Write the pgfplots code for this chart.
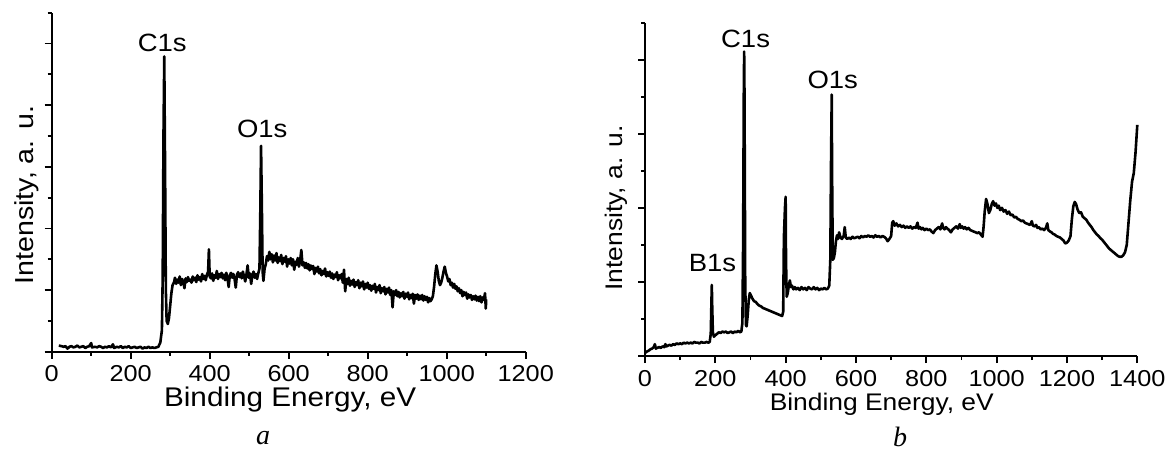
\documentclass[border=0pt]{standalone}
\usepackage{fontspec}
\setmainfont{Liberation Sans}[FakeStretch=1.1]
\newfontfamily\serifit{Liberation Serif}[ItalicFont={Liberation Serif Italic}]
\usepackage{pgfplots}
\pgfplotsset{compat=1.18}
\pgfplotsset{xps/.style={
  scale only axis, axis lines=left,
  axis line style={-, line width=0.9pt, black},
  every tick/.style={black, line width=0.9pt},
  tick align=outside, major tick length=3.5pt, minor tick length=2pt,
  yticklabels={},
  /pgf/number format/assume math mode=true,
  /pgf/number format/1000 sep={},
  scaled x ticks=false,
  tick label style={font=\fontsize{11.5}{13}\selectfont},
  clip=false,
}}
\begin{document}
\begin{tikzpicture}
\useasboundingbox (0,0) rectangle (584.5pt,226pt);
% ---------- panel a ----------
\begin{axis}[xps, at={(25.85pt,50.15pt)}, anchor=south west,
  width=237pt, height=169.5pt,
  xmin=0, xmax=1200, ymin=0, ymax=5.5,
  xtick={0,200,...,1200}, minor xtick={100,300,...,1100},
  ytick={0,1,...,5}, minor ytick={0.5,1.5,...,5.5},
  xlabel={Binding Energy, eV},
  ylabel={Intensity, a. u.},
  xlabel style={at={(axis description cs:0.503,-0.142)}, anchor=center, font=\fontsize{13.5}{15}\selectfont},
  ylabel style={at={(axis description cs:-0.052,0.462)}, anchor=center, font=\fontsize{13}{15}\selectfont},
]
\addplot[black, line width=1.3pt, line join=round] coordinates {
(18,0.10)(25,0.09)(30,0.08)(35,0.09)(40,0.05)(45,0.08)(50,0.09)(55,0.07)(60,0.08)(65,0.10)(70,0.07)(75,0.08)(80,0.09)(85,0.06)(90,0.08)(95,0.09)(100,0.14)(102,0.07)(110,0.08)(115,0.07)(120,0.09)(125,0.08)(130,0.06)(135,0.08)(140,0.07)(145,0.09)(150,0.07)(155,0.12)(158,0.06)(165,0.08)(170,0.07)(175,0.09)(180,0.06)(185,0.08)(190,0.07)(195,0.09)(200,0.06)(205,0.07)(210,0.08)(215,0.06)(220,0.07)(225,0.08)(230,0.05)(235,0.07)(240,0.06)(245,0.08)(250,0.06)(255,0.07)(260,0.06)(265,0.07)(270,0.08)(275,0.15)(279,0.35)(281,1.2)(283,3.5)(285,4.79)(287,3.0)(289,1.0)(291,0.5)(294,0.45)(297,0.55)(300,0.75)(303,0.95)(306,1.08)(310,1.13)
(312,1.20)(315,1.10)(318,1.17)(321,1.12)(324,1.22)(327,1.08)(330,1.18)(333,1.14)(336,1.03)(339,1.19)(342,1.13)(345,1.21)(348,1.15)(351,1.17)(354,1.12)(357,1.22)(360,1.16)(363,1.20)(366,1.13)(369,1.24)(372,1.17)(375,1.21)(378,1.14)(381,1.26)(384,1.18)(387,1.23)(390,1.16)(393,1.25)(396,1.30)(398,1.66)(400,1.22)(403,1.19)(406,1.27)(409,1.15)(412,1.24)(415,1.20)(418,1.31)(421,1.18)(424,1.26)(427,1.21)(430,1.28)(433,1.19)(436,1.25)(439,1.16)(442,1.28)(445,1.20)(448,1.05)(451,1.24)(454,1.28)(457,1.20)(460,1.26)(463,1.18)(466,1.04)(469,1.25)(472,1.29)(475,1.21)(478,1.27)(481,1.19)(484,1.30)(487,1.22)(490,1.14)(493,1.25)(496,1.40)(499,1.20)(502,1.27)(505,1.10)(508,1.24)(511,1.30)(514,1.20)(517,1.26)(520,1.18)(523,1.27)(526,1.35)(528,2.2)(530,3.34)(532,2.4)(534,1.3)(536,1.15)(539,1.35)(542,1.42)(545,1.55)(548,1.48)(551,1.62)(554,1.50)(557,1.58)(560,1.45)(563,1.56)(566,1.48)(569,1.60)(572,1.44)(575,1.53)(578,1.47)(581,1.57)(584,1.42)(587,1.52)(590,1.46)(593,1.55)(596,1.38)(599,1.50)(602,1.43)(605,1.52)(608,1.40)(611,1.50)(614,1.33)(617,1.46)(620,1.41)(623,1.52)(626,1.38)(629,1.48)(632,1.65)(635,1.40)(638,1.45)(641,1.36)(644,1.44)(647,1.35)(650,1.42)(653,1.32)(656,1.40)(659,1.34)(662,1.39)(665,1.26)(668,1.36)(671,1.30)(674,1.38)(677,1.27)(680,1.34)(683,1.24)(686,1.31)(689,1.26)(692,1.35)(695,1.22)(698,1.29)(701,1.23)(704,1.30)(707,1.20)(710,1.27)(713,1.18)(716,1.25)(719,1.21)(722,1.29)(725,1.16)(728,1.24)(731,1.19)(734,1.26)(737,1.12)(740,1.33)(743,0.98)(746,1.18)(749,1.10)(752,1.20)(755,1.07)(758,1.15)(761,1.09)(764,1.17)(767,1.05)(770,1.13)(773,1.08)(776,1.16)(779,1.03)(782,1.12)(785,1.06)(788,1.14)(791,1.01)(794,1.10)(797,1.04)(800,1.12)(803,1.02)(806,1.08)(809,0.99)(812,1.07)(815,1.02)(818,1.10)(821,0.96)(824,1.05)(827,1.00)(830,1.08)(833,0.95)(836,1.03)(839,0.98)(842,1.05)(845,0.93)(848,1.02)(851,0.96)(854,1.04)(857,0.92)(860,1.00)(863,0.72)(866,0.98)(869,0.92)(872,1.00)(875,0.90)(878,0.97)(881,0.88)(884,0.95)(887,0.90)(890,0.97)(893,0.86)(896,0.94)(899,0.89)(902,0.96)(905,0.85)(908,0.92)(911,0.87)(914,0.94)(917,0.78)(920,0.92)(923,0.86)(926,0.93)(929,0.84)(932,0.91)(935,0.85)(938,0.92)(941,0.83)(944,0.90)(947,0.84)(950,0.89)(953,0.80)(956,0.87)(959,0.82)(962,0.85)(965,0.90)(968,1.05)(971,1.25)(974,1.40)(977,1.30)(980,1.15)(983,1.08)(986,1.12)(989,1.20)(992,1.30)(995,1.38)(998,1.28)(1001,1.22)(1004,1.14)(1007,1.18)(1010,1.08)(1013,1.12)(1016,1.04)(1019,1.10)(1022,1.02)(1025,1.06)(1028,0.98)(1031,1.03)(1034,0.95)(1037,1.00)(1040,0.90)(1043,0.97)(1046,0.92)(1049,0.96)(1052,0.86)(1055,0.93)(1058,0.88)(1061,0.92)(1064,0.84)(1067,0.90)(1070,0.85)(1073,0.91)(1076,0.83)(1079,0.89)(1082,0.82)(1085,0.90)(1088,0.80)(1091,0.88)(1094,0.84)(1097,0.95)(1099,0.70)(1100,0.85)
};
\node[anchor=south, font=\fontsize{12.5}{14}\selectfont, inner sep=1pt] at (axis cs:280,4.83) {C1s};
\node[anchor=south, font=\fontsize{12.5}{14}\selectfont, inner sep=1pt] at (axis cs:533,3.43) {O1s};
\end{axis}
% ---------- panel b ----------
\begin{axis}[xps, at={(322.5pt,48pt)}, anchor=south west,
  width=246.15pt, height=166.65pt,
  xmin=0, xmax=1400, ymin=0, ymax=4.5,
  xtick={0,200,...,1400}, minor xtick={100,300,...,1300},
  ytick={0,1,...,4}, minor ytick={0.5,1.5,...,4.5},
  xlabel={Binding Energy, eV},
  ylabel={Intensity, a. u.},
  xlabel style={at={(axis description cs:0.481,-0.145)}, anchor=center, font=\fontsize{12}{14}\selectfont},
  ylabel style={at={(axis description cs:-0.059,0.444)}, anchor=center, font=\fontsize{12}{14}\selectfont},
]
\addplot[black, line width=1.3pt, line join=round] coordinates {
(0,0.04)(5,0.06)(10,0.07)(15,0.09)(20,0.10)(25,0.12)(28,0.16)(31,0.10)(35,0.11)(40,0.12)(45,0.11)(50,0.13)(55,0.12)(58,0.16)(61,0.13)(65,0.14)(70,0.15)(75,0.14)(80,0.16)(85,0.15)(90,0.17)(95,0.16)(100,0.17)(105,0.16)(110,0.18)(115,0.17)(120,0.18)(125,0.17)(130,0.18)(135,0.17)(140,0.19)(145,0.18)(150,0.18)(155,0.17)(160,0.19)(165,0.18)(170,0.18)(175,0.19)(180,0.18)(184,0.19)(187,0.30)(189,0.75)(190,0.96)(191,0.70)(193,0.32)(196,0.26)(200,0.28)(205,0.30)(210,0.32)(215,0.31)(220,0.33)(225,0.32)(230,0.33)(235,0.31)(240,0.32)(245,0.33)(250,0.31)(255,0.33)(260,0.32)(265,0.34)(270,0.32)(274,0.33)(277,0.45)(279,1.5)(281,3.6)(282,4.11)(283,3.5)(285,1.0)(287,0.42)(289,0.40)(292,0.55)(295,0.75)(298,0.85)(301,0.82)(305,0.78)(310,0.74)(315,0.73)(320,0.70)(325,0.68)(330,0.67)(335,0.65)(340,0.64)(345,0.63)(350,0.62)(355,0.61)(360,0.60)(365,0.59)(370,0.58)(375,0.57)(380,0.56)(385,0.55)(390,0.54)(393,0.60)(395,1.6)(398,2.0)(400,2.15)(401,1.3)(403,0.80)(406,0.85)(409,0.95)(412,1.02)(415,0.93)(418,0.95)(422,0.90)(426,0.93)(430,0.90)(435,0.92)(440,0.89)(445,0.93)(450,0.90)(455,0.92)(460,0.89)(465,0.93)(470,0.91)(475,0.90)(480,0.93)(485,0.90)(490,0.92)(495,0.89)(500,0.91)(505,0.90)(510,0.92)(515,0.90)(520,0.91)(524,0.95)(527,1.30)(529,2.6)(531,3.53)(532,2.5)(534,1.3)(537,1.32)(540,1.40)(543,1.55)(546,1.63)(549,1.58)(552,1.67)(556,1.60)(560,1.58)(565,1.62)(568,1.74)(571,1.60)(575,1.58)(580,1.60)(585,1.58)(590,1.61)(595,1.59)(600,1.60)(605,1.61)(610,1.59)(615,1.62)(620,1.60)(625,1.62)(630,1.61)(635,1.63)(640,1.61)(645,1.62)(650,1.60)(655,1.63)(660,1.61)(665,1.62)(670,1.60)(675,1.62)(680,1.61)(685,1.59)(690,1.55)(695,1.58)(700,1.62)(703,1.80)(706,1.82)(710,1.76)(715,1.79)(720,1.75)(725,1.77)(730,1.74)(735,1.76)(740,1.73)(745,1.75)(750,1.73)(755,1.75)(760,1.72)(765,1.74)(770,1.73)(775,1.80)(778,1.72)(782,1.74)(786,1.71)(790,1.73)(795,1.70)(800,1.72)(805,1.70)(810,1.71)(815,1.68)(820,1.66)(825,1.70)(830,1.72)(835,1.74)(840,1.71)(845,1.79)(848,1.73)(852,1.71)(856,1.74)(860,1.72)(865,1.70)(870,1.67)(875,1.71)(880,1.73)(885,1.75)(890,1.72)(895,1.78)(898,1.73)(902,1.75)(906,1.72)(910,1.74)(915,1.71)(920,1.73)(925,1.70)(930,1.69)(935,1.68)(940,1.67)(945,1.66)(950,1.67)(955,1.64)(960,1.61)(963,1.75)(966,1.95)(970,2.12)(974,2.05)(978,1.93)(982,1.97)(986,2.05)(990,2.09)(994,2.03)(998,2.06)(1002,2.00)(1006,2.03)(1010,1.97)(1015,2.00)(1020,1.95)(1025,1.97)(1030,1.92)(1035,1.95)(1040,1.90)(1045,1.91)(1050,1.87)(1055,1.88)(1060,1.85)(1065,1.84)(1070,1.82)(1075,1.83)(1080,1.80)(1085,1.79)(1090,1.78)(1095,1.77)(1100,1.82)(1103,1.76)(1108,1.75)(1112,1.77)(1116,1.73)(1120,1.74)(1125,1.71)(1130,1.72)(1135,1.70)(1140,1.73)(1144,1.79)(1147,1.70)(1152,1.68)(1156,1.67)(1160,1.65)(1165,1.64)(1170,1.62)(1175,1.61)(1180,1.60)(1185,1.58)(1190,1.56)(1195,1.52)(1200,1.53)(1205,1.56)(1210,1.62)(1214,1.85)(1218,2.02)(1222,2.08)(1226,2.05)(1230,1.98)(1235,1.93)(1240,1.94)(1245,1.88)(1250,1.86)(1255,1.84)(1260,1.80)(1265,1.77)(1270,1.74)(1275,1.70)(1280,1.67)(1285,1.64)(1290,1.62)(1295,1.59)(1300,1.57)(1305,1.54)(1310,1.51)(1315,1.48)(1320,1.45)(1325,1.43)(1330,1.41)(1335,1.39)(1340,1.37)(1345,1.35)(1350,1.34)(1355,1.34)(1360,1.36)(1365,1.40)(1370,1.50)(1375,1.80)(1380,2.10)(1385,2.35)(1390,2.47)(1395,2.75)(1400,3.12)
};
\node[anchor=south, font=\fontsize{12.5}{14}\selectfont, inner sep=1pt] at (axis cs:286,4.13) {C1s};
\node[anchor=south, font=\fontsize{12.5}{14}\selectfont, inner sep=1pt] at (axis cs:534,3.57) {O1s};
\node[anchor=south, font=\fontsize{12.5}{14}\selectfont, inner sep=1pt] at (axis cs:192,1.10) {B1s};
\end{axis}
\node[font=\serifit\itshape\fontsize{14}{16}\selectfont] at (131.5pt,7pt) {a};
\node[font=\serifit\itshape\fontsize{14}{16}\selectfont] at (450pt,7.5pt) {b};
\end{tikzpicture}
\end{document}
